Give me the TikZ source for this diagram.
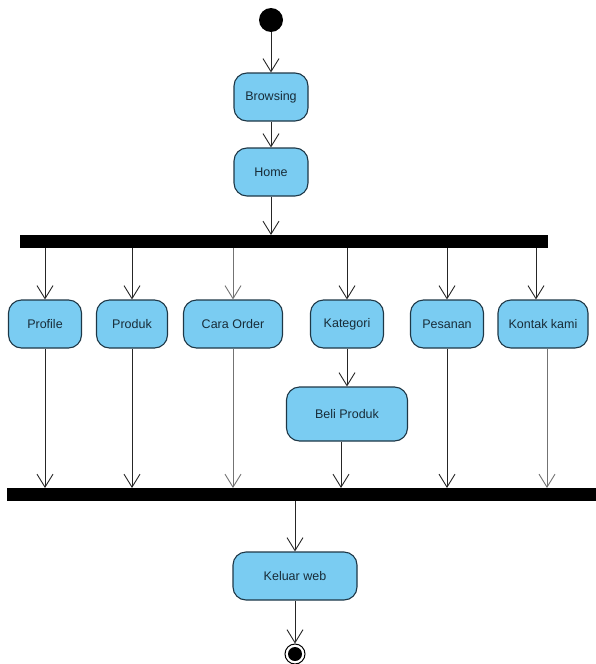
\documentclass[tikz,border=0pt]{standalone}
\usepackage{fontspec}
\setmainfont{Liberation Sans}
\usetikzlibrary{arrows.meta}
\definecolor{actfill}{RGB}{122,204,242}
\definecolor{actline}{RGB}{30,55,70}
\tikzset{
  activity/.style={draw=actline, fill=actfill, line width=1.1pt,
    rounded corners=13pt, minimum height=48pt, inner sep=2pt,
    font=\fontsize{12.5}{14}\selectfont, text=actline!80!black},
  bar/.style={fill=black, draw=none},
  flow/.style={line width=0.9pt, draw=black!85,
    -{Straight Barb[length=13pt,width=16pt,line width=0.9pt]}},
  thinflow/.style={flow, draw=black!55},
}
\begin{document}
\begin{tikzpicture}[x=1pt,y=-1pt]
\useasboundingbox (0,0) rectangle (596,664);

% start / end
\node[circle, fill=black, minimum size=24pt, inner sep=0] (start) at (271,20) {};
\node[circle, draw=black, line width=1pt, fill=white, minimum size=20pt, inner sep=0] (stop) at (295,654) {};
\fill[black] (stop.center) circle (7pt);

% top actions
\node[activity, minimum width=74pt] (browse) at (271,97) {Browsing};
\node[activity, minimum width=74pt] (home) at (271,172) {Home};

% fork and join bars
\node[bar, minimum width=528pt, minimum height=13pt, inner sep=0, anchor=north west] (fork) at (20,235) {};
\node[bar, minimum width=589pt, minimum height=13pt, inner sep=0, anchor=north west] (join) at (7,488) {};

% parallel actions
\node[activity, minimum width=73pt] (profile) at (45,324) {Profile};
\node[activity, minimum width=71pt] (produk) at (132,324) {Produk};
\node[activity, minimum width=99pt] (cara) at (233,324) {Cara Order};
\node[activity, minimum width=73pt] (kategori) at (347,324) {Kategori};
\node[activity, minimum width=73pt] (pesanan) at (447,324) {Pesanan};
\node[activity, minimum width=90pt] (kontak) at (543,324) {Kontak kami};
\node[activity, minimum width=121pt, minimum height=54pt] (beli) at (347,414) {Beli Produk};

\node[activity, minimum width=124pt] (keluar) at (295,576) {Keluar web};

% flows
\draw[flow] (start) -- (browse);
\draw[flow] (browse) -- (home);
\draw[flow] (home) -- (home.south |- fork.north);

\draw[flow] (fork.south -| profile.north) -- (profile.north);
\draw[flow] (fork.south -| produk.north) -- (produk.north);
\draw[thinflow] (fork.south -| cara.north) -- (cara.north);
\draw[flow] (fork.south -| kategori.north) -- (kategori.north);
\draw[flow] (fork.south -| pesanan.north) -- (pesanan.north);
\coordinate (ktop) at (536,0);
\draw[flow] (fork.south -| ktop) -- (kontak.north -| ktop);

\draw[flow] (kategori) -- (beli);

\draw[flow] (profile.south) -- (profile.south |- join.north);
\draw[flow] (produk.south) -- (produk.south |- join.north);
\draw[thinflow] (cara.south) -- (cara.south |- join.north);
\coordinate (bbot) at (341,0);
\draw[flow] (beli.south -| bbot) -- (join.north -| bbot);
\draw[flow] (pesanan.south) -- (pesanan.south |- join.north);
\coordinate (kbot) at (547,0);
\draw[thinflow] (kontak.south -| kbot) -- (join.north -| kbot);

\draw[flow] (join.south -| keluar.north) -- (keluar.north);
\draw[flow] (keluar) -- (stop);
\end{tikzpicture}
\end{document}
